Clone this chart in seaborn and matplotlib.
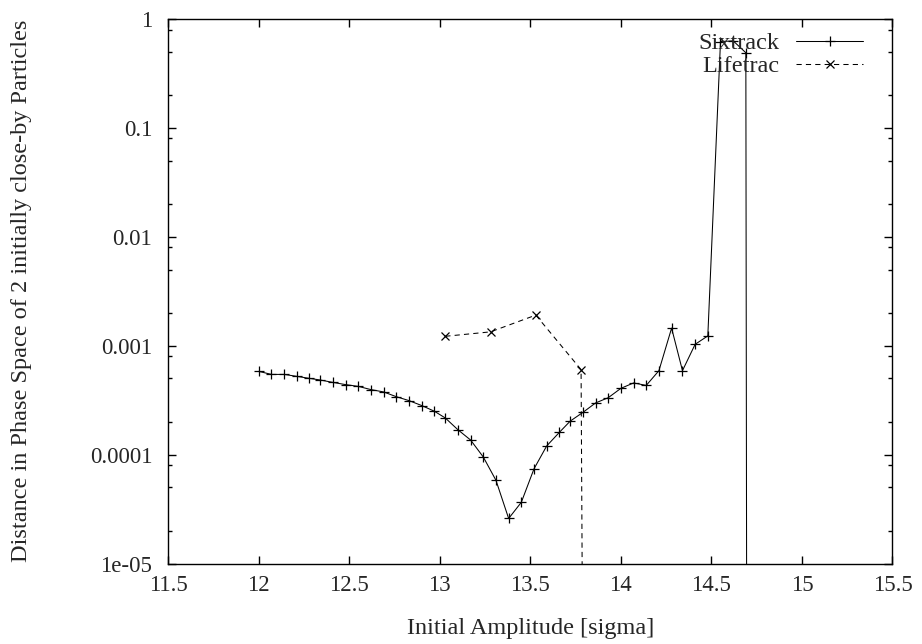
import numpy as np
import pandas as pd
import matplotlib
matplotlib.use("Agg")
import matplotlib.pyplot as plt
from matplotlib.ticker import FixedLocator, FixedFormatter, LogLocator, NullFormatter, NullLocator
import seaborn as sns

# Sixtrack: separation of two initially close-by particles vs. initial amplitude
sixtrack_amp = [12.00, 12.07, 12.14, 12.21, 12.28, 12.34, 12.41, 12.48, 12.55, 12.62,
                12.69, 12.76, 12.83, 12.90, 12.97, 13.03, 13.10, 13.17, 13.24, 13.31,
                13.38, 13.45, 13.52, 13.59, 13.66, 13.72, 13.79, 13.86, 13.93, 14.00,
                14.07, 14.14, 14.21, 14.28, 14.34, 14.41, 14.48, 14.55, 14.62, 14.69,
                14.76]
sixtrack_dist = [5.81e-4, 5.45e-4, 5.45e-4, 5.23e-4, 5.01e-4, 4.84e-4, 4.60e-4, 4.39e-4,
                 4.23e-4, 3.95e-4, 3.76e-4, 3.40e-4, 3.13e-4, 2.82e-4, 2.50e-4, 2.17e-4,
                 1.69e-4, 1.36e-4, 9.5e-5, 5.8e-5, 2.59e-5, 3.65e-5, 7.4e-5, 1.20e-4,
                 1.60e-4, 2.03e-4, 2.44e-4, 2.98e-4, 3.33e-4, 4.06e-4, 4.55e-4, 4.32e-4,
                 5.9e-4, 1.45e-3, 5.9e-4, 1.03e-3, 1.23e-3, 0.62, 0.63, 0.49, 1e-80]

# Lifetrac: same quantity, coarser amplitude scan
lifetrac_amp = [13.03, 13.28, 13.53, 13.78, 14.03]
lifetrac_dist = [1.22e-3, 1.34e-3, 1.91e-3, 6.03e-4, 1e-80]

x_ticks = [11.5, 12, 12.5, 13, 13.5, 14, 14.5, 15, 15.5]
x_tick_labels = ["11.5", "12", "12.5", "13", "13.5", "14", "14.5", "15", "15.5"]
y_ticks = [1, 0.1, 0.01, 0.001, 0.0001, 1e-5]
y_tick_labels = ["1", "0.1", "0.01", "0.001", "0.0001", "1e-05"]

TICK_FS = 16.5
LABEL_FS = 17.5

sns.set_style("ticks")
plt.rcParams["font.family"] = ["Liberation Serif", "DejaVu Serif"]

fig = plt.figure(figsize=(9.22, 6.44), dpi=100)
ax = fig.add_axes([0.1825, 0.125, 0.7855, 0.8455])

six = pd.DataFrame({"amp": sixtrack_amp, "dist": sixtrack_dist})
life = pd.DataFrame({"amp": lifetrac_amp, "dist": lifetrac_dist})

sns.lineplot(data=six, x="amp", y="dist", ax=ax, color="black", linewidth=0.75,
             marker="+", markersize=7, markeredgewidth=0.9, markeredgecolor="black",
             label="Sixtrack", sort=False, estimator=None)
sns.lineplot(data=life, x="amp", y="dist", ax=ax, color="black", linewidth=0.75,
             marker="x", markersize=6, markeredgewidth=0.9, markeredgecolor="black",
             dashes=(5, 4), label="Lifetrac", sort=False, estimator=None)

ax.set_yscale("log")
ax.set_xlim(11.5, 15.5)
ax.set_ylim(1e-5, 1)

ax.xaxis.set_major_locator(FixedLocator(x_ticks))
ax.xaxis.set_major_formatter(FixedFormatter(x_tick_labels))
ax.xaxis.set_minor_locator(NullLocator())
ax.yaxis.set_major_locator(FixedLocator(y_ticks))
ax.yaxis.set_major_formatter(FixedFormatter(y_tick_labels))
ax.yaxis.set_minor_locator(LogLocator(base=10, subs=[2, 5, 8]))
ax.yaxis.set_minor_formatter(NullFormatter())

ax.tick_params(axis="both", which="both", direction="in", top=True, right=True,
               color="black", width=1.0)
ax.tick_params(axis="both", which="major", length=6, labelsize=TICK_FS)
ax.tick_params(axis="y", which="minor", length=3)
ax.tick_params(axis="y", which="major", pad=11.5)
ax.tick_params(axis="x", which="major", pad=8)

for side in ["left", "right", "top", "bottom"]:
    ax.spines[side].set_visible(True)
    ax.spines[side].set_linewidth(1.0)
    ax.spines[side].set_color("black")

ax.set_xlabel("Initial Amplitude [sigma]", fontsize=LABEL_FS)
ax.set_ylabel("Distance in Phase Space of 2 initially close-by Particles", fontsize=LABEL_FS)
ax.xaxis.set_label_coords(0.5, -0.1)
ax.yaxis.set_label_coords(-0.188, 0.5)

leg = ax.legend(loc="upper right", bbox_to_anchor=(0.9593, 0.976), frameon=False,
                markerfirst=False, fontsize=LABEL_FS, handlelength=2.75, handletextpad=0.7,
                labelspacing=0.05, borderaxespad=0.0, borderpad=0.0, numpoints=1)
for t in leg.get_texts():
    t.set_ha("right")

fig.savefig("out.png", dpi=100)
